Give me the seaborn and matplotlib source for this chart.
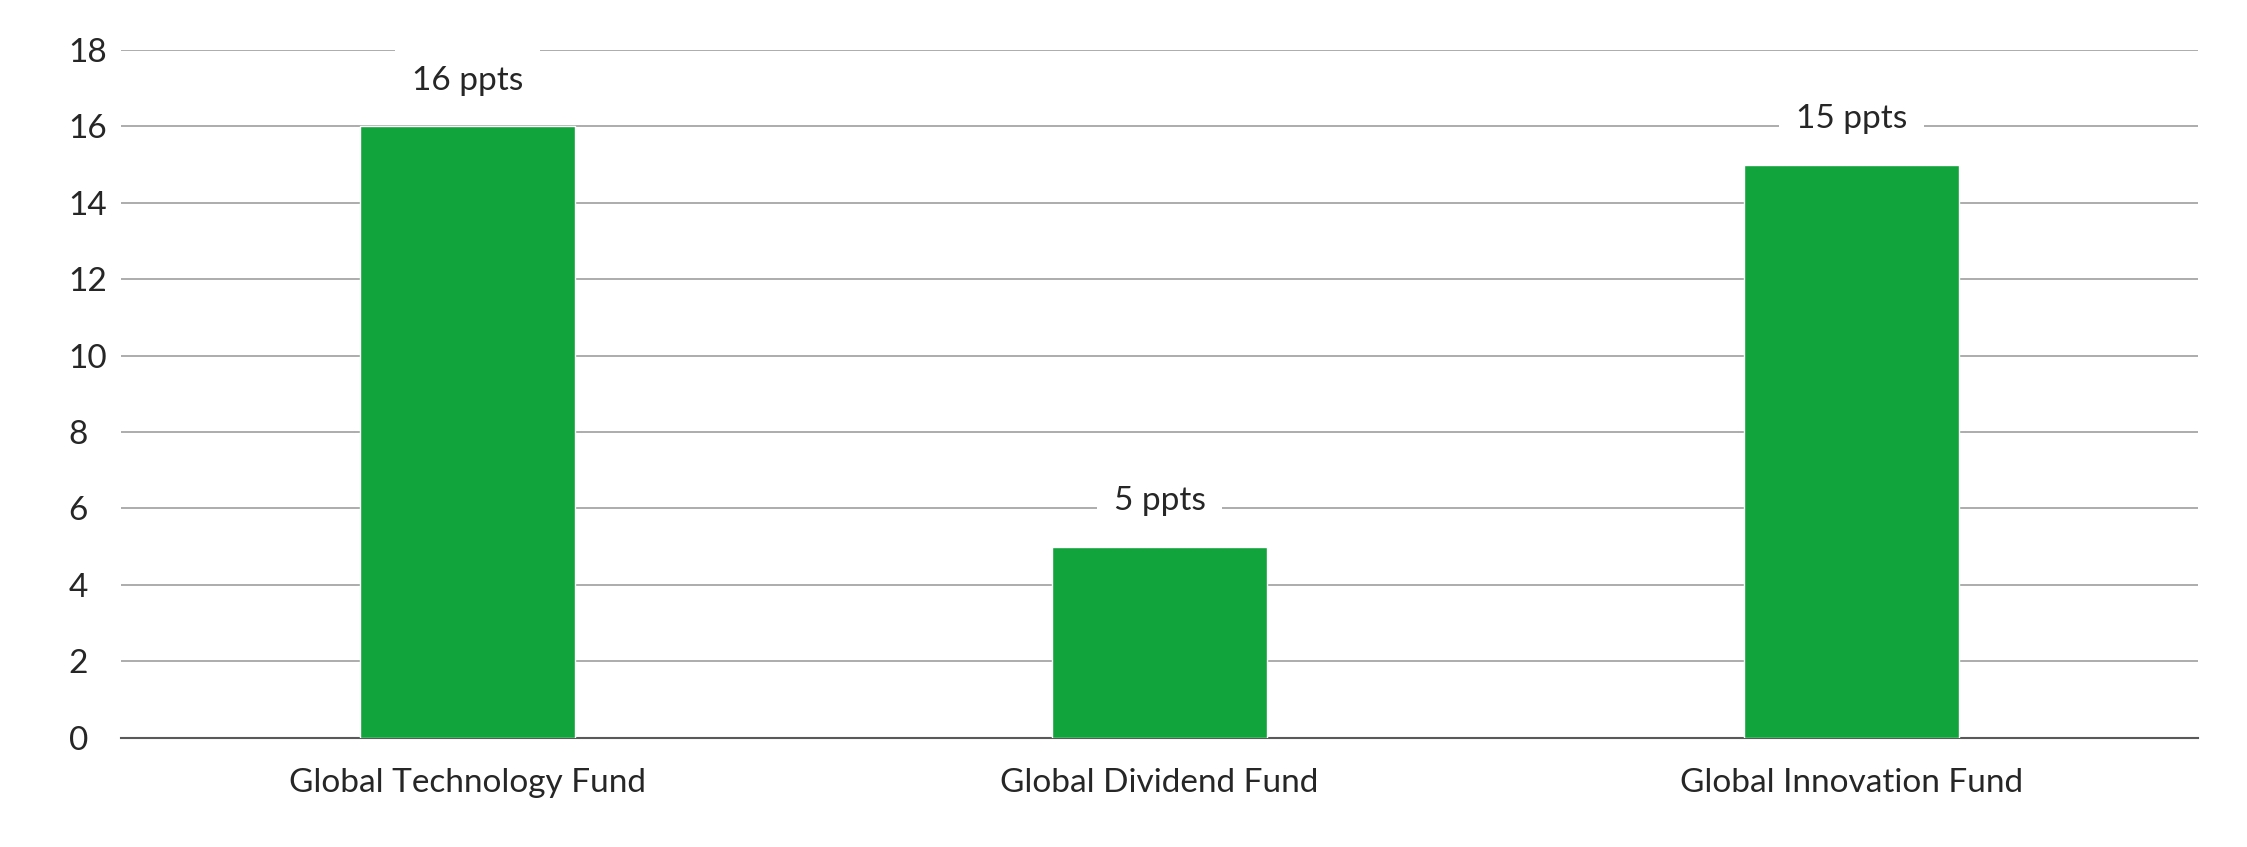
import matplotlib
matplotlib.use("Agg")
import matplotlib.pyplot as plt
import seaborn as sns
import pandas as pd

categories = ["Global Technology Fund", "Global Dividend Fund", "Global Innovation Fund"]
values = [16, 5, 15]
labels = ["16 ppts", "5 ppts", "15 ppts"]
yticks = [0, 2, 4, 6, 8, 10, 12, 14, 16, 18]

sns.set_style("white")
plt.rcParams['font.family'] = ['Lato', 'DejaVu Sans']

fig = plt.figure(figsize=(22.47, 8.47), dpi=100)
ax = fig.add_axes([0.054, 0.129, 0.924, 0.812])
df = pd.DataFrame({"cat": categories, "val": values})
sns.barplot(data=df, x="cat", y="val", color="#11a43c", width=0.31, saturation=1, ax=ax, zorder=3)
ax.set_xlim(-0.5, 2.5)
ax.set_ylim(0, 18)
ax.set_yticks(yticks)
ax.yaxis.grid(True, color="#a6a6a6", linewidth=1.3, zorder=0)
ax.set_axisbelow(True)
for s in ["top", "right", "left"]:
    ax.spines[s].set_visible(False)
ax.spines["bottom"].set_color("#595959")
ax.spines["bottom"].set_linewidth(1.5)
ax.set_xlabel("")
ax.set_ylabel("")
ax.tick_params(axis="y", length=0, labelsize=24, pad=38, colors="#262626")
ax.set_xticks([-0.5, 0.5, 1.5, 2.5], minor=True)
ax.tick_params(axis="x", which="major", length=0, labelsize=24, pad=22, colors="#262626")
ax.tick_params(axis="x", which="minor", length=9, width=1.5, color="#595959", direction="out")
for lbl in ax.get_yticklabels():
    lbl.set_horizontalalignment("left")
for i, (v, t) in enumerate(zip(values, labels)):
    ax.text(i, v + 1.2, t, ha="center", va="center", fontsize=24, color="#262626", zorder=5,
            bbox=dict(facecolor="white", edgecolor="none", pad=12))
fig.savefig("out.png", dpi=100, facecolor="white")
